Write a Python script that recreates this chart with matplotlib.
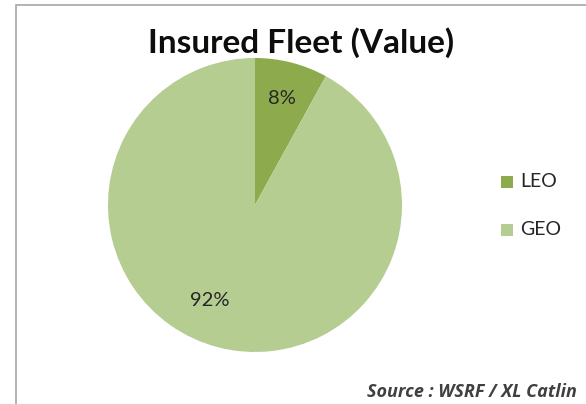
import matplotlib
matplotlib.use("Agg")
import matplotlib.pyplot as plt
from matplotlib.patches import Rectangle
import numpy as np

categories = ["LEO", "GEO"]
values = [8, 92]
colors = ["#8DAB4D", "#B6CD91"]
title = "Insured Fleet (Value)"
source = "Source : WSRF / XL Catlin"

W, H = 586, 404
fig = plt.figure(figsize=(W / 100, H / 100), dpi=100)
fig.patch.set_facecolor("white")

# chart border
fig.add_artist(Rectangle((16 / W, -0.05), 1.1, (H - 5) / H + 0.05, transform=fig.transFigure,
                         fill=False, edgecolor="#A6A6A6", linewidth=1.2))

cx, cy, r = 255, 205, 147
ax = fig.add_axes([(cx - r) / W, (H - cy - r) / H, 2 * r / W, 2 * r / H])
wedges, texts, autotexts = ax.pie(values, colors=colors, startangle=90, counterclock=False,
                                  autopct="%d%%", pctdistance=0.75,
                                  wedgeprops=dict(linewidth=0),
                                  textprops=dict(fontsize=14.5, color="#262626", family="Lato"))
# Excel best-fit position of the large slice label
autotexts[1].set_position((-0.31, -0.65))
ax.set_xlim(-1, 1)
ax.set_ylim(-1, 1)
ax.set_aspect("equal")
ax.axis("off")

fig.text(301 / W, 1 - 43 / H, title, ha="center", va="center", fontsize=24,
         fontweight="bold", family="Lato", color="#0D0D0D")

# legend
for i, (cat, col) in enumerate(zip(categories, colors)):
    y = 182 + i * 48
    fig.add_artist(Rectangle((501 / W, 1 - (y + 6) / H), 12 / W, 12 / H,
                             transform=fig.transFigure, facecolor=col, edgecolor="none"))
    fig.text(520 / W, 1 - y / H, cat, ha="left", va="center", fontsize=14,
             family="Lato", color="#262626")

fig.text(367 / W, 1 - 392 / H, source, ha="left", va="center", fontsize=13,
         fontweight="bold", fontstyle="italic", family="Open Sans", color="#404040")

fig.savefig("out.png", dpi=100)
